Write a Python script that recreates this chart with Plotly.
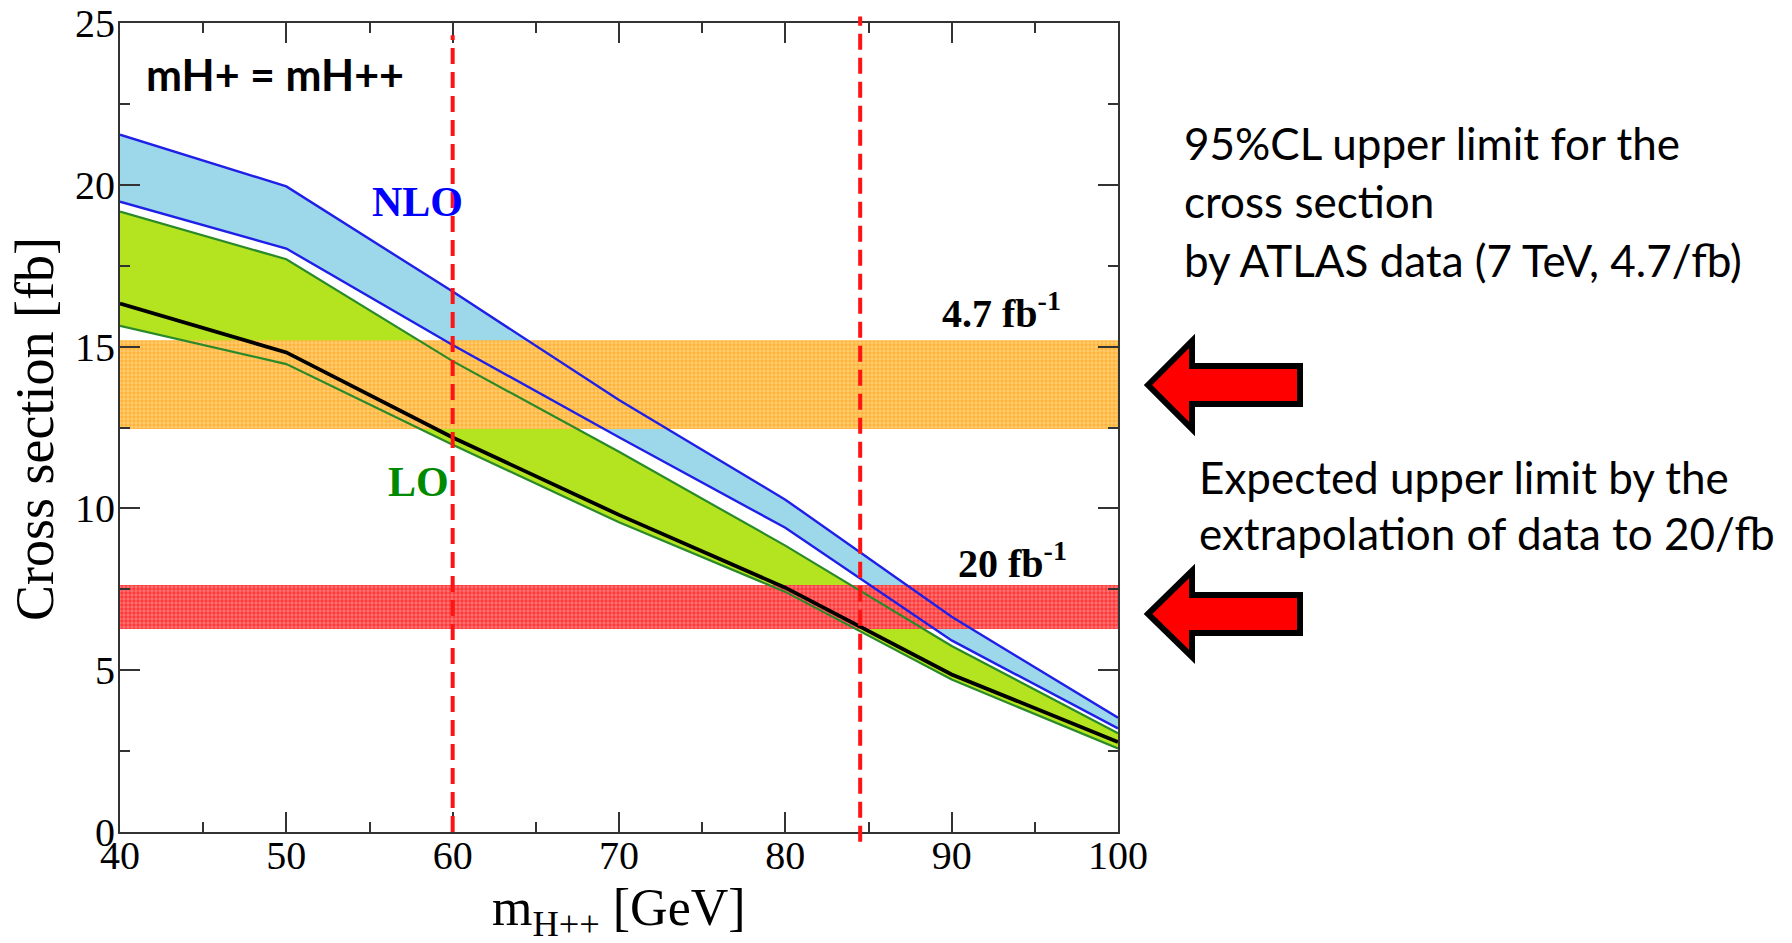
import plotly.graph_objects as go

# ---------------- data ----------------
mass = [40, 50, 60, 70, 80, 90, 100]
nlo_upper = [21.55, 19.95, 16.7, 13.35, 10.27, 6.65, 3.53]
nlo_lower = [19.48, 18.03, 15.05, 12.2, 9.4, 5.92, 3.2]
lo_upper = [19.17, 17.7, 14.55, 11.75, 8.85, 5.75, 3.05]
lo_lower = [15.64, 14.46, 11.97, 9.57, 7.42, 4.71, 2.58]
limit_curve = [16.33, 14.82, 12.19, 9.8, 7.55, 4.87, 2.78]

band_47 = [12.45, 15.2]   # 95%CL observed limit band (4.7 fb^-1)
band_20 = [6.27, 7.63]    # expected limit band (20 fb^-1)
mass_limits = [60, 84.5]  # vertical dashed lines

x_range = [40, 100]
y_range = [0, 25]
x_ticks = [40, 50, 60, 70, 80, 90, 100]
y_ticks = [0, 5, 10, 15, 20, 25]

# ---------------- geometry helpers (figure pixels -> paper) ----------------
W, H = 1792, 943
L, R, T, B = 120, 1118, 23, 832


def px(x):
    return (x - L) / (R - L)


def py(y):
    return (B - y) / (B - T)


BLUE = "#1f1fe8"
GREEN = "#2a8a2a"
SERIF = "Liberation Serif, Times New Roman, serif"
SANS = "Lato, Open Sans, sans-serif"

fig = go.Figure()

# NLO band fill
fig.add_trace(go.Scatter(x=mass, y=nlo_lower, mode="lines", line=dict(width=0),
                         showlegend=False, hoverinfo="skip"))
fig.add_trace(go.Scatter(x=mass, y=nlo_upper, mode="lines", line=dict(width=0),
                         fill="tonexty", fillcolor="#9dd8ea", showlegend=False, hoverinfo="skip"))
# LO band fill
fig.add_trace(go.Scatter(x=mass, y=lo_lower, mode="lines", line=dict(width=0),
                         showlegend=False, hoverinfo="skip"))
fig.add_trace(go.Scatter(x=mass, y=lo_upper, mode="lines", line=dict(width=0),
                         fill="tonexty", fillcolor="#b4e41f", showlegend=False, hoverinfo="skip"))

# hatched limit bands (drawn over the fills)
for band, fg, bg in [(band_47, "#ff9a00", "#ffcd74"), (band_20, "#ff0000", "#ff7474")]:
    lo, hi = band
    fig.add_trace(go.Scatter(
        x=[x_range[0], x_range[1], x_range[1], x_range[0], x_range[0]],
        y=[lo, lo, hi, hi, lo],
        mode="lines", line=dict(width=0), fill="toself",
        fillcolor=bg,
        fillpattern=dict(shape=".", fgcolor=fg, bgcolor=bg, size=4, solidity=0.55),
        showlegend=False, hoverinfo="skip"))

# curves
for ys, col, w in [(nlo_upper, BLUE, 2.4), (nlo_lower, BLUE, 2.4),
                   (lo_upper, GREEN, 2.2), (lo_lower, GREEN, 2.2),
                   (limit_curve, "#000000", 3.8)]:
    fig.add_trace(go.Scatter(x=mass, y=ys, mode="lines", line=dict(color=col, width=w),
                             showlegend=False, hoverinfo="skip"))

# vertical dashed lines
tops = [0.985, 1.008]
bots = [0.0, -0.012]
for xv, t, b in zip(mass_limits, tops, bots):
    fig.add_shape(type="line", xref="x", yref="paper", x0=xv, x1=xv, y0=b, y1=t,
                  line=dict(color="#ff1414", width=4, dash="16px,8px"), layer="above")


# arrows (pointing left)
def arrow(tip_x, cy, head_half, shaft_half, base_x, end_x):
    pts = [(tip_x, cy), (base_x, cy - head_half), (base_x, cy - shaft_half),
           (end_x, cy - shaft_half), (end_x, cy + shaft_half), (base_x, cy + shaft_half),
           (base_x, cy + head_half)]
    path = "M " + " L ".join(f"{px(a):.5f},{py(b):.5f}" for a, b in pts) + " Z"
    fig.add_shape(type="path", xref="paper", yref="paper", path=path,
                  fillcolor="#ff0000", line=dict(color="#000000", width=6), layer="above")


arrow(1148, 385, 44, 19, 1192, 1300)
arrow(1148, 614, 43, 19, 1192, 1300)

annotations = [
    dict(x=px(144), y=py(74), text="<b>mH+ = mH++</b>", xanchor="left", yanchor="middle",
         font=dict(family=SANS, size=43, color="#000")),
    dict(x=px(417), y=py(202), text="<b>NLO</b>", xanchor="center", yanchor="middle",
         font=dict(family=SERIF, size=42, color="#0000ff")),
    dict(x=px(418), y=py(482), text="<b>LO</b>", xanchor="center", yanchor="middle",
         font=dict(family=SERIF, size=42, color="#008a00")),
    dict(x=px(1001), y=py(311), text="<b>4.7 fb<sup>-1</sup></b>", xanchor="center", yanchor="middle",
         font=dict(family=SERIF, size=40, color="#000")),
    dict(x=px(1012), y=py(560), text="<b>20 fb<sup>-1</sup></b>", xanchor="center", yanchor="middle",
         font=dict(family=SERIF, size=40, color="#000")),
    dict(x=px(619), y=py(877), text="m<sub>H++</sub> [GeV]", xanchor="center", yanchor="top",
         font=dict(family=SERIF, size=52, color="#000")),
    dict(x=px(35), y=py(429), text="Cross section [fb]", textangle=-90, xanchor="center",
         yanchor="middle", font=dict(family=SERIF, size=54, color="#000")),
]
right_lines = [
    (1182, 143, "95%CL upper limit for the"),
    (1182, 201, "cross section"),
    (1182, 260, "by ATLAS data (7 TeV, 4.7/fb)"),
    (1197, 477, "Expected upper limit by the"),
    (1197, 533, "extrapolation of data to 20/fb"),
]
for x, y, t in right_lines:
    annotations.append(dict(x=px(x), y=py(y), text=t, xanchor="left", yanchor="middle",
                            font=dict(family=SANS, size=44, color="#000")))
for a in annotations:
    a.update(xref="paper", yref="paper", showarrow=False)

axis_common = dict(
    showline=True, linecolor="#333333", linewidth=2, mirror="allticks",
    ticks="inside", ticklen=20, tickwidth=2, tickcolor="#333333",
    showgrid=False, zeroline=False, automargin=False,
    tickfont=dict(family=SERIF, size=40, color="#000"),
)

fig.update_layout(
    width=W, height=H,
    margin=dict(l=L, r=W - R, t=T, b=H - B, autoexpand=False),
    paper_bgcolor="white", plot_bgcolor="white",
    showlegend=False,
    xaxis=dict(range=x_range, tickvals=x_ticks, ticktext=[str(v) for v in x_ticks],
               ticklabelstandoff=-13,
               minor=dict(ticks="inside", ticklen=10, tickwidth=2, tickcolor="#333333", dtick=5),
               **axis_common),
    yaxis=dict(range=y_range, tickvals=y_ticks, ticktext=[str(v) for v in y_ticks],
               ticklabelstandoff=-5,
               minor=dict(ticks="inside", ticklen=10, tickwidth=2, tickcolor="#333333", dtick=2.5),
               **axis_common),
    annotations=annotations,
)

fig.write_html("out.html")
